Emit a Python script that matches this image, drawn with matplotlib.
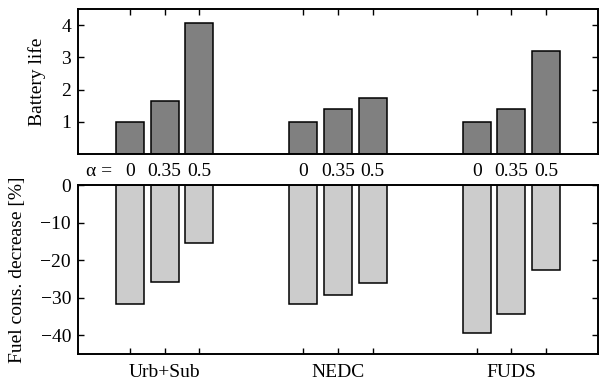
import matplotlib
matplotlib.use("Agg")
import matplotlib.pyplot as plt
import numpy as np

plt.rcParams['font.family'] = ['Liberation Serif', 'DejaVu Serif']

cycles = ["Urb+Sub", "NEDC", "FUDS"]
alphas = ["0", "0.35", "0.5"]
battery_life = [[1.0, 1.64, 4.08], [1.0, 1.39, 1.74], [1.0, 1.40, 3.19]]
fuel_decrease = [[-31.8, -25.8, -15.5], [-31.6, -29.3, -26.2], [-39.4, -34.3, -22.7]]

fs = 14
fig = plt.figure(figsize=(6.0, 3.86), dpi=100)
W, H = 600, 386
ax1 = fig.add_axes([78/W, 1-154/H, 520/W, 145/H])
ax2 = fig.add_axes([78/W, 1-354/H, 520/W, 169/H])

pos = np.array([[5*g + k for k in (-1, 0, 1)] for g in range(3)], dtype=float)

for g in range(3):
    ax1.bar(pos[g], battery_life[g], width=0.8, color='#808080', edgecolor='black', linewidth=1.1)
    ax2.bar(pos[g], fuel_decrease[g], width=0.8, color='#cccccc', edgecolor='black', linewidth=1.1)

for ax in (ax1, ax2):
    ax.set_xlim(-2.5, 12.5)
    for s in ax.spines.values():
        s.set_linewidth(1.4)
    ax.tick_params(direction='in', length=4, width=1.0, labelsize=fs, left=True, right=True, pad=5)

ax1.set_ylim(0, 4.5)
ax1.set_yticks([1, 2, 3, 4])
ax1.set_xticks(pos.ravel())
ax1.tick_params(axis='x', top=True, bottom=False, labeltop=False, labelbottom=False)
ax1.set_ylabel("Battery life", fontsize=fs)

ax2.set_ylim(-45, 0)
ax2.set_yticks([0, -10, -20, -30, -40])
ax2.set_yticklabels(["0", "\u221210", "\u221220", "\u221230", "\u221240"])
ax2.set_xticks(pos.ravel())
ax2.set_xticklabels([])
ax2.tick_params(axis='x', top=False, bottom=True)
ax2.set_ylabel("Fuel cons. decrease [%]", fontsize=fs)

xt = ax2.get_xaxis_transform()
for g in range(3):
    ax2.annotate(cycles[g], xy=(pos[g][1], 0), xycoords=xt, xytext=(0, -10),
                 textcoords='offset pixels', ha='center', va='top', fontsize=fs)
    for k in range(3):
        ax2.text(pos[g][k], 1.08, alphas[k], transform=xt, ha='center',
                 va='center', fontsize=fs)
ax2.text(pos[0][0] - 0.52, 1.08, "\u03b1 =", transform=xt, ha='right',
         va='center', fontsize=fs)

ax1.yaxis.set_label_coords(-0.062, 0.5)
ax2.yaxis.set_label_coords(-0.10, 0.5)

fig.savefig("out.png", dpi=100)
